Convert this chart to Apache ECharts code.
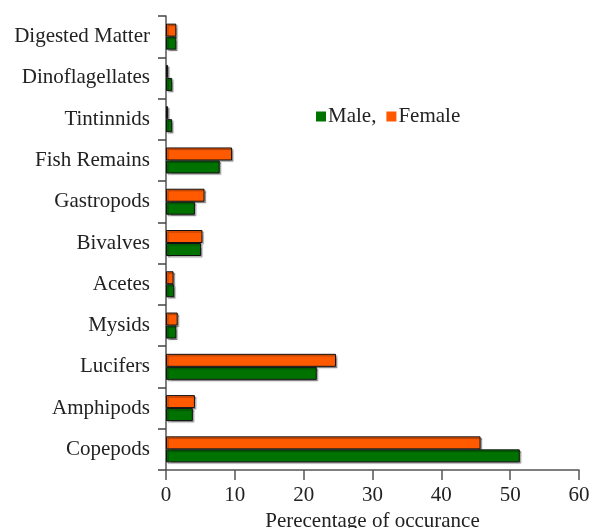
<!DOCTYPE html>
<html>
<head>
<meta charset="utf-8">
<script src="https://cdn.jsdelivr.net/npm/echarts@6/dist/echarts.min.js"></script>
<style>
  html, body { margin: 0; padding: 0; background: #fff; }
  #chart { width: 590px; height: 528px; }
</style>
</head>
<body>
<div id="chart"></div>
<script>
const categories = ['Copepods', 'Amphipods', 'Lucifers', 'Mysids', 'Acetes', 'Bivalves',
  'Gastropods', 'Fish Remains', 'Tintinnids', 'Dinoflagellates', 'Digested Matter']
const maleValues = [51.4, 3.9, 21.9, 1.5, 1.2, 5.1, 4.2, 7.8, 0.9, 0.9, 1.5]
const femaleValues = [45.7, 4.2, 24.7, 1.7, 1.1, 5.3, 5.6, 9.6, 0.3, 0.3, 1.5]
const xTicks = [0, 10, 20, 30, 40, 50, 60]

const font = "'Liberation Serif', 'Times New Roman', serif"
const chart = echarts.init(document.getElementById('chart'))

const barStyle = (color) => ({
  color: color,
  borderColor: '#111',
  borderWidth: 1,
  shadowColor: 'rgba(0,0,0,0.35)',
  shadowOffsetX: 1.5,
  shadowOffsetY: 1.5,
  shadowBlur: 1
})

chart.setOption({
  animation: false,
  textStyle: { fontFamily: font },
  legend: {
    left: 311,
    top: 101,
    itemWidth: 10,
    itemHeight: 10,
    itemGap: 10,
    icon: 'rect',
    data: ['Male', 'Female'],
    formatter: (name) => name === 'Male' ? 'Male,' : name,
    itemStyle: { borderWidth: 0, shadowBlur: 0, shadowOffsetX: 0, shadowOffsetY: 0 },
    textStyle: { fontFamily: font, fontSize: 21, color: '#222', padding: [0, 0, 0, -3] }
  },
  grid: { left: 166, top: 16, right: 11, bottom: 58, containLabel: false, outerBoundsMode: 'none' },
  xAxis: {
    type: 'value',
    min: xTicks[0],
    max: xTicks[xTicks.length - 1],
    interval: 10,
    name: 'Perecentage of occurance',
    nameLocation: 'middle',
    nameGap: 37,
    nameTextStyle: { fontFamily: font, fontSize: 21, color: '#222' },
    axisLine: { show: true, lineStyle: { color: '#555', width: 1.5 } },
    axisTick: { show: true, length: 10, lineStyle: { color: '#555', width: 1.5 } },
    axisLabel: { fontFamily: font, fontSize: 21, color: '#222', margin: 15 },
    splitLine: { show: false }
  },
  yAxis: {
    type: 'category',
    data: categories,
    axisLine: { show: true, lineStyle: { color: '#555', width: 1.5 } },
    axisTick: { show: true, length: 8, lineStyle: { color: '#444', width: 1.5 } },
    axisLabel: { fontFamily: font, fontSize: 21, color: '#222', margin: 16 }
  },
  series: [
    {
      name: 'Female',
      type: 'bar',
      data: femaleValues,
      barWidth: 13,
      barGap: '0%',
      itemStyle: barStyle('#ff5a00')
    },
    {
      name: 'Male',
      type: 'bar',
      data: maleValues,
      barWidth: 13,
      barGap: '0%',
      itemStyle: barStyle('#007200')
    }
  ]
})
</script>
</body>
</html>
